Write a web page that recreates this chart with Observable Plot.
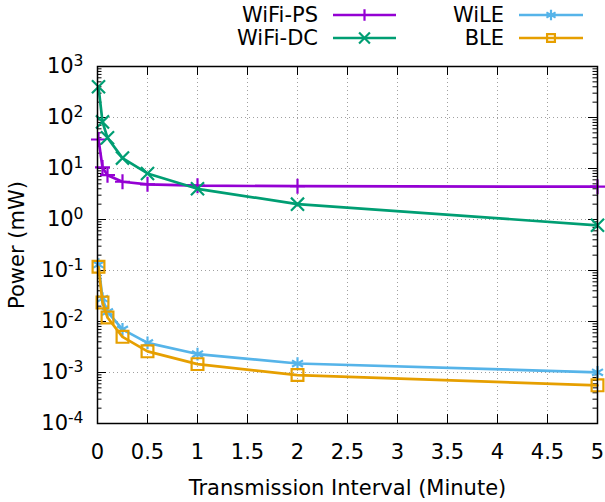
<!DOCTYPE html>
<html><head><meta charset="utf-8">
<script src="https://cdn.jsdelivr.net/npm/d3@7"></script>
<script src="https://cdn.jsdelivr.net/npm/@observablehq/plot@0.6"></script>
<style>
body{margin:0;background:#fff;font-family:"DejaVu Sans",sans-serif;}
#wrap{width:605px;height:502px;position:relative;overflow:hidden;}
#legend svg, #chart svg{display:block;}
#chart svg{overflow:visible;}
</style></head><body><div id="wrap"><div id="legend"></div><div id="chart"></div></div>
<script>
// ---- data ----
const intervals = [0.01, 0.05, 0.1, 0.25, 0.5, 1, 2, 5];
const wifiPS = [37, 10.5, 7.4, 5.5, 4.9, 4.6, 4.5, 4.4];
const wifiDC = [400, 82, 40, 16, 8, 4, 2.0, 0.77];
const wile = [0.13, 0.028, 0.0154, 0.0070, 0.0038, 0.0023, 0.0015, 0.00101];
const ble = [0.118, 0.0236, 0.012, 0.005, 0.0026, 0.00146, 0.00089, 0.00056];
const seriesNames = ["WiFi-PS", "WiFi-DC", "WiLE", "BLE"];
const seriesValues = [wifiPS, wifiDC, wile, ble];
const seriesColors = ["#9400d3", "#009e73", "#56b4e9", "#e69f00"];
const seriesSymbols = ["plus", "times", "asterisk", "square2"];
const seriesR = [4.9, 6, 6, 7.5];
const xTicks = [0, 0.5, 1, 1.5, 2, 2.5, 3, 3.5, 4, 4.5, 5];
const yTicks = [1e-4, 1e-3, 1e-2, 1e-1, 1e0, 1e1, 1e2, 1e3];
const xLabel = "Transmission Interval (Minute)";
const yLabel = "Power (mW)";

// ---- layout ----
const W = 605, LEG_H = 56, H = 502 - LEG_H;
const mT = 10, mB = 79, mL = 97, mR = 8;
const frameH = H - mT - mB, frameW = W - mL - mR;
const majorLen = 9, minorLen = 4.5;
const FONT = '"DejaVu Sans", sans-serif';
const FS = "21px";

const table = seriesNames.flatMap((name, s) =>
  intervals.map((x, i) => ({series: name, x, y: seriesValues[s][i]})));
const yMinor = d3.scaleLog().domain([1e-4, 1e3]).ticks().filter(v => !yTicks.some(t => Math.abs(t - v) / t < 1e-9));

const marks = [
  Plot.gridX(xTicks.slice(1, -1), {stroke: "#a0a0a0", strokeOpacity: 1, strokeDasharray: "1,3"}),
  Plot.gridY(yTicks.slice(1, -1), {stroke: "#a0a0a0", strokeOpacity: 1, strokeDasharray: "1,3"}),
  // inward ticks
  Plot.tickX(xTicks, {x: d => d, insetTop: frameH - majorLen, stroke: "black"}),
  Plot.tickX(xTicks, {x: d => d, insetBottom: frameH - majorLen, stroke: "black"}),
  Plot.tickY(yTicks, {y: d => d, insetRight: frameW - majorLen, stroke: "black"}),
  Plot.tickY(yTicks, {y: d => d, insetLeft: frameW - majorLen, stroke: "black"}),
  Plot.tickY(yMinor, {y: d => d, insetRight: frameW - minorLen, stroke: "black"}),
  Plot.tickY(yMinor, {y: d => d, insetLeft: frameW - minorLen, stroke: "black"}),
  Plot.axisX(xTicks, {tickSize: 0, tickPadding: 21, tickFormat: d => String(d), label: xLabel, labelArrow: "none", labelAnchor: "center", labelOffset: 71}),
  Plot.axisY(yTicks, {tickSize: 0, tickPadding: 14, tickFormat: d => "10^" + Math.round(Math.log10(d)), label: yLabel, labelArrow: "none", labelAnchor: "center", labelOffset: 88}),
];
seriesNames.forEach((name, s) => {
  const d = table.filter(r => r.series === name);
  marks.push(Plot.line(d, {x: "x", y: "y", stroke: seriesColors[s], strokeWidth: 2.7}));
  marks.push(Plot.dot(d, {x: "x", y: "y", stroke: seriesColors[s], fill: "none", strokeWidth: 2.2, symbol: seriesSymbols[s], r: seriesR[s]}));
});
marks.push(Plot.frame({stroke: "black", strokeWidth: 1.5}));

const svg = Plot.plot({
  width: W, height: H,
  marginTop: mT, marginBottom: mB, marginLeft: mL, marginRight: mR,
  x: {domain: [0, 5]},
  y: {type: "log", domain: [1e-4, 1e3]},
  style: {fontFamily: FONT, fontSize: FS, color: "black", background: "white", overflow: "visible"},
  marks
});
// strip any label arrows
d3.select(svg).selectAll('g[aria-label$="axis label"] text').each(function() {
  this.textContent = this.textContent.replace(/[\u2190-\u2193]/g, "").trim();
});
// superscript exponents on y tick labels
d3.select(svg).selectAll('g[aria-label="y-axis tick label"] text').each(function() {
  const parts = this.textContent.split("^");
  const t = d3.select(this);
  t.text(parts[0]);
  t.append("tspan").attr("dy", "-0.45em").attr("font-size", "0.74em").text(parts[1]);
});
document.getElementById("chart").appendChild(svg);

// ---- legend ----
const leg = d3.select("#legend").append("svg").attr("width", W).attr("height", LEG_H)
  .style("font-family", FONT).style("font-size", FS);
const legPos = [
  {tx: 318, x1: 333, x2: 396, y: 15},
  {tx: 318, x1: 333, x2: 396, y: 38},
  {tx: 504, x1: 519, x2: 583, y: 15},
  {tx: 504, x1: 519, x2: 583, y: 38}
];
const symMap = {plus: d3.symbolPlus, times: d3.symbolTimes, asterisk: d3.symbolAsterisk, square2: d3.symbolSquare2};
const legSize = [Math.PI * 14, Math.PI * 25, Math.PI * 25, Math.PI * 25];
seriesNames.forEach((name, s) => {
  const p = legPos[s];
  leg.append("text").attr("x", p.tx).attr("y", p.y).attr("dy", "0.35em").attr("text-anchor", "end").attr("fill", "black").text(name);
  leg.append("line").attr("x1", p.x1).attr("x2", p.x2).attr("y1", p.y).attr("y2", p.y).attr("stroke", seriesColors[s]).attr("stroke-width", 2.7);
  leg.append("path").attr("transform", `translate(${(p.x1 + p.x2) / 2},${p.y})`)
    .attr("d", d3.symbol(symMap[seriesSymbols[s]], legSize[s])())
    .attr("fill", "none").attr("stroke", seriesColors[s]).attr("stroke-width", 2.2);
});
</script></body></html>
